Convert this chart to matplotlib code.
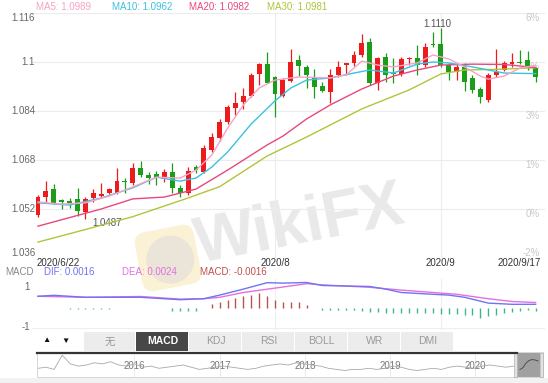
import numpy as np
import matplotlib.pyplot as plt
import matplotlib.transforms as mtransforms
from matplotlib.patches import Rectangle, FancyBboxPatch, Circle

plt.rcParams['font.family'] = ['Liberation Sans', 'Noto Sans CJK SC', 'DejaVu Sans']

# --- data ---
date_labels = ["2020/6/22", "2020/8", "2020/9", "2020/9/17"]
date_pos = [0, 30, 51, 63]

opens = [1.0500, 1.0558, 1.0584, 1.0549, 1.0547, 1.0552, 1.0511, 1.0555, 1.0563, 1.0571,
         1.0573, 1.0612, 1.0604, 1.0653, 1.0631, 1.0634, 1.0617, 1.0642, 1.0588, 1.0573,
         1.0658, 1.0642, 1.0713, 1.0751, 1.0805, 1.0849, 1.0870, 1.0889, 1.0960, 1.0993,
         1.0950, 1.0889, 1.0939, 1.1007, 1.0985, 1.0947, 1.0922, 1.0903, 1.0958, 1.0990,
         1.0996, 1.1023, 1.1066, 1.0932, 1.1015, 1.0965, 1.0961, 1.1009, 1.1012, 1.0990,
         1.1059, 1.1059, 1.0990, 1.0968, 1.0985, 1.0947, 1.0911, 1.0876, 1.0958, 1.0974,
         1.0993, 1.1001, 1.1007, 1.0979]
highs = [1.0566, 1.0612, 1.0602, 1.0552, 1.0555, 1.0588, 1.0560, 1.0584, 1.0606, 1.0588,
         1.0653, 1.0620, 1.0669, 1.0678, 1.0642, 1.0645, 1.0650, 1.0669, 1.0598, 1.0656,
         1.0664, 1.0729, 1.0767, 1.0813, 1.0860, 1.0903, 1.0914, 1.0963, 1.0998, 1.1034,
         1.0954, 1.0947, 1.1041, 1.1023, 1.0990, 1.0976, 1.0936, 1.0976, 1.1004, 1.0998,
         1.1037, 1.1091, 1.1077, 1.1015, 1.1028, 1.1012, 1.1015, 1.1015, 1.1056, 1.1061,
         1.1099, 1.1110, 1.0996, 1.0996, 1.0996, 1.0958, 1.0919, 1.0963, 1.1041, 1.1004,
         1.1030, 1.1039, 1.1037, 1.0985]
lows = [1.0494, 1.0544, 1.0536, 1.0520, 1.0524, 1.0497, 1.0487, 1.0544, 1.0558, 1.0568,
        1.0569, 1.0571, 1.0598, 1.0624, 1.0602, 1.0598, 1.0609, 1.0571, 1.0558, 1.0566,
        1.0637, 1.0637, 1.0707, 1.0743, 1.0798, 1.0827, 1.0846, 1.0885, 1.0925, 1.0930,
        1.0819, 1.0885, 1.0936, 1.0954, 1.0914, 1.0881, 1.0903, 1.0867, 1.0952, 1.0958,
        1.0987, 1.1015, 1.0925, 1.0909, 1.0936, 1.0930, 1.0954, 1.0990, 1.0958, 1.0985,
        1.1050, 1.0985, 1.0941, 1.0941, 1.0906, 1.0900, 1.0865, 1.0870, 1.0952, 1.0972,
        1.0985, 1.0993, 1.0974, 1.0936]
closes = [1.0558, 1.0580, 1.0541, 1.0544, 1.0541, 1.0514, 1.0554, 1.0573, 1.0569, 1.0584,
          1.0612, 1.0608, 1.0653, 1.0631, 1.0620, 1.0620, 1.0642, 1.0588, 1.0571, 1.0645,
          1.0647, 1.0718, 1.0756, 1.0805, 1.0854, 1.0865, 1.0889, 1.0958, 1.0992, 1.0932,
          1.0896, 1.0941, 1.1001, 1.0987, 1.0956, 1.0919, 1.0905, 1.0958, 1.0985, 1.0996,
          1.1023, 1.1063, 1.0932, 1.1012, 1.0958, 1.0961, 1.1009, 1.1012, 1.0990, 1.1050,
          1.1056, 1.0990, 1.0968, 1.0985, 1.0936, 1.0909, 1.0885, 1.0958, 1.0968, 1.0996,
          1.1001, 1.0998, 1.0985, 1.0950]

ma5_idx = [0, 3, 6, 9, 12, 15, 18, 20, 22, 24, 26, 28, 30, 33, 37, 39, 41, 43, 45, 48,
           50, 52, 54, 56, 57, 59, 61, 63]
ma5 = [1.0543, 1.0536, 1.0540, 1.0562, 1.0592, 1.0624, 1.0621, 1.0647, 1.0696, 1.0784,
       1.0860, 1.0915, 1.0941, 1.0951, 1.0948, 1.0958, 1.1003, 1.0990, 1.0984, 1.0997,
       1.1023, 1.1010, 1.0984, 1.0954, 1.0944, 1.0954, 1.0980, 1.0989]
ma10_idx = [0, 4, 8, 12, 15, 18, 20, 22, 24, 27, 30, 32, 34, 37, 40, 42, 45, 48, 50,
            52, 55, 59, 63]
ma10 = [1.0540, 1.0533, 1.0556, 1.0589, 1.0624, 1.0611, 1.0621, 1.0657, 1.0706, 1.0798,
        1.0873, 1.0915, 1.0941, 1.0948, 1.0964, 1.0974, 1.0964, 1.0993, 1.1000, 1.0997,
        1.0984, 1.0964, 1.0962]
ma20_idx = [0, 8, 12, 16, 20, 24, 29, 31, 34, 37, 41, 45, 48, 51, 55, 59, 63]
ma20 = [1.0464, 1.0520, 1.0553, 1.0559, 1.0585, 1.0647, 1.0729, 1.0758, 1.0814, 1.0860,
        1.0912, 1.0954, 1.0974, 1.0990, 1.0993, 1.0992, 1.0982]
ma30_idx = [0, 6, 12, 19, 23, 29, 34, 41, 47, 51, 54, 58, 63]
ma30 = [1.0412, 1.0453, 1.0495, 1.0556, 1.0593, 1.0693, 1.0755, 1.0847, 1.0909, 1.0961,
        1.0974, 1.0976, 1.0981]

yticks = [1.036, 1.052, 1.068, 1.084, 1.1, 1.116]
pct_labels = ["-2%", "0%", "1%", "3%", "4%", "6%"]

dif_idx = [0, 2, 6, 13, 18, 21, 23, 26, 29, 31, 34, 36, 42, 44, 46, 50, 52, 54, 57, 60, 63]
dif = [0.56, 0.61, 0.51, 0.51, 0.39, 0.44, 0.62, 0.92, 1.24, 1.22, 1.25, 1.10, 1.05, 0.92,
       0.75, 0.66, 0.62, 0.51, 0.22, 0.16, 0.16]
dea_idx = [0, 6, 13, 18, 21, 23, 26, 30, 34, 36, 42, 46, 50, 53, 57, 60, 63]
dea = [0.56, 0.51, 0.55, 0.42, 0.44, 0.51, 0.75, 0.97, 1.19, 1.13, 1.01, 0.87, 0.75, 0.66,
       0.44, 0.30, 0.25]
macd_hist = [0, -0.04, -0.04, 0, -0.05, -0.05, -0.05, -0.05, -0.05, -0.05,
             0, 0, 0, -0.03, 0, 0, 0, -0.15, -0.15, -0.15,
             -0.15, 0, 0.18, 0.30, 0.39, 0.49, 0.57, 0.62, 0.71, 0.57,
             0.39, 0.30, 0.27, 0.27, 0.14, 0, -0.12, -0.12, -0.12, -0.12,
             -0.14, -0.18, -0.21, -0.23, -0.25, -0.25, -0.27, -0.27, -0.27, -0.28,
             -0.28, -0.30, -0.30, -0.32, -0.35, -0.39, -0.53, -0.44, -0.35, -0.27,
             -0.21, -0.18, -0.14, -0.18]

tabs = ["无", "MACD", "KDJ", "RSI", "BOLL", "WR", "DMI"]
years = ["2016", "2017", "2018", "2019", "2020"]
year_x = [134, 220, 305, 390, 475]
nav_vals = [0.35, 0.4, 0.3, 0.95, 0.55, 0.45, 0.5, 0.6, 0.55, 0.65, 0.5, 0.45, 0.55, 0.4,
            0.45, 0.35, 0.4, 0.45, 0.5, 0.4, 0.3, 0.35, 0.4, 0.45, 0.4, 0.35, 0.3, 0.35,
            0.45, 0.5, 0.55, 0.5, 0.6, 0.55, 0.5, 0.45, 0.35, 0.3, 0.25, 0.3, 0.3, 0.35,
            0.3, 0.35, 0.45, 0.4, 0.3, 0.25, 0.3, 0.35, 0.3, 0.4, 0.45, 0.4, 0.35, 0.45,
            0.5, 0.45, 0.4, 0.45]
sel_vals = [0.25, 0.35, 0.6, 0.75, 0.8, 0.78, 0.72]

RED = '#ec1c1c'
GREEN = '#1a9e1a'
C_MA5, C_MA10, C_MA20, C_MA30 = '#f5a3c6', '#3cc1df', '#e8487f', '#b1c43a'

W, H = 548, 383


def frac(x0, y0, x1, y1):
    return [x0 / W, 1 - y1 / H, (x1 - x0) / W, (y1 - y0) / H]


fig = plt.figure(figsize=(5.48, 3.83), dpi=100)

# background layer: watermark, legends, tabs (pixel coords)
bg = fig.add_axes([0, 0, 1, 1], zorder=0)
bg.set_xlim(0, W)
bg.set_ylim(H, 0)
bg.axis('off')

rot = mtransforms.Affine2D().rotate_deg_around(168, 258, -11) + bg.transData
logo = FancyBboxPatch((138, 228), 60, 60, boxstyle="round,pad=0,rounding_size=12",
                      facecolor='#fbf2d6', edgecolor='none', transform=rot)
bg.add_patch(logo)
bg.add_patch(Circle((170, 260), 24, facecolor='#ebe4d8', edgecolor='none', transform=rot))
bg.text(300, 226, "WikiFX", fontsize=46, fontweight='bold', color='#e9e9e9',
        rotation=11, ha='center', va='center')

legend_items = [("MA5: 1.0989", 36, C_MA5), ("MA10: 1.0962", 112, C_MA10),
                ("MA20: 1.0982", 189, C_MA20), ("MA30: 1.0981", 267, C_MA30)]
for txt, x, col in legend_items:
    bg.text(x, 7, txt, fontsize=7, color=col, ha='left', va='center')

macd_items = [("MACD", 5, '#888888'), ("DIF: 0.0016", 44, '#6f74f0'),
              ("DEA: 0.0024", 122, '#e070e0'), ("MACD: -0.0016", 200, '#c0504d')]
for txt, x, col in macd_items:
    bg.text(x, 272, txt, fontsize=7, color=col, ha='left', va='center')

# --- main candlestick panel ---
ax = fig.add_axes(frac(32, 13, 545, 258), zorder=1)
ax.set_facecolor('none')
ax.set_xlim(-0.76, 64.18)
ax.set_ylim(1.036, 1.116)
for s in ax.spines.values():
    s.set_visible(False)
ax.set_xticks([])
ax.set_yticks([])
for y in yticks:
    ax.axhline(y, color='#ececec', lw=0.8, zorder=0)
for d in date_pos[1:3]:
    ax.axvline(d, color='#ececec', lw=0.8, zorder=0)

ytr = mtransforms.blended_transform_factory(ax.transAxes, ax.transData)
for i, y in enumerate(yticks):
    va = 'bottom' if i == 0 else ('top' if i == len(yticks) - 1 else 'center')
    ax.text(0.006, y, f"{y:g}", transform=ytr, ha='right', va=va, fontsize=7, color='#666666')
    pva = 'bottom' if i == 0 else 'top'
    ax.text(0.99, y, pct_labels[i], transform=ytr, ha='right', va=pva, fontsize=7,
            color='#c8c8c8', zorder=1)

o, h, l, c = map(np.array, (opens, highs, lows, closes))
idx = np.arange(len(o))
cols = np.where(c >= o, RED, GREEN)
ax.vlines(idx, l, h, colors=cols, lw=0.9, zorder=3)
body = np.maximum(np.abs(c - o), 0.0003)
ax.bar(idx, body, 0.62, bottom=np.minimum(o, c), color=cols, linewidth=0, zorder=4)

ax.plot(ma30_idx, ma30, color=C_MA30, lw=1, zorder=5)
ax.plot(ma20_idx, ma20, color=C_MA20, lw=1, zorder=5)
ax.plot(ma10_idx, ma10, color=C_MA10, lw=1, zorder=5)
ax.plot(ma5_idx, ma5, color=C_MA5, lw=1, zorder=5)

imax = int(np.argmax(h))
imin = int(np.argmin(l))
ax.text(imax - 0.5, h[imax] + 0.0014, f"{h[imax]:.4f}", ha='center', va='center',
        fontsize=7, color='#555555')
ax.text(imin + 2.7, l[imin] - 0.0013, f"{l[imin]:.4f}", ha='center', va='center',
        fontsize=7, color='#555555')

xtr = mtransforms.blended_transform_factory(ax.transData, ax.transAxes)
date_ha = ['left', 'center', 'center', 'right']
date_x = [-0.15, 30, 51, 63.6]
for lab, x, ha in zip(date_labels, date_x, date_ha):
    ax.text(x, -0.022, lab, transform=xtr, ha=ha, va='center', fontsize=7, color='#333333')

# --- MACD panel ---
ax2 = fig.add_axes(frac(32, 279, 545, 330), zorder=1)
ax2.set_facecolor('none')
ax2.set_xlim(-0.76, 64.18)
ax2.set_ylim(-1.125, 1.425)
for s in ax2.spines.values():
    s.set_visible(False)
ax2.set_xticks([])
ax2.set_yticks([])
ax2.axhline(-1, color='#eeeeee', lw=0.8, zorder=0)
for d in date_pos[1:3]:
    ax2.axvline(d, color='#eeeeee', lw=0.8, zorder=0)
ytr2 = mtransforms.blended_transform_factory(ax2.transAxes, ax2.transData)
for v in (1, -1):
    ax2.text(-0.004, v, str(v), transform=ytr2, ha='right', va='center', fontsize=7,
             color='#666666')
hist = np.array(macd_hist)
ax2.vlines(idx, 0, hist, colors=np.where(hist > 0, '#b5524e', '#3db58a'), lw=1.0, zorder=2)
ax2.plot(dea_idx, dea, color='#e46ee6', lw=1, zorder=3)
ax2.plot(dif_idx, dif, color='#6f74f0', lw=1, zorder=3)

# --- indicator tabs ---
bg.text(46, 341, "▲", fontsize=6, color='#111111', ha='center', va='center')
bg.text(65, 341, "▼", fontsize=6, color='#111111', ha='center', va='center')
tab_edges = [84, 136, 189, 242, 295, 348, 401, 454]
for k, name in enumerate(tabs):
    x0, x1 = tab_edges[k], tab_edges[k + 1]
    active = name == "MACD"
    bg.add_patch(Rectangle((x0, 332), x1 - x0 - 1, 19,
                           facecolor='#474747' if active else '#ececec', edgecolor='none'))
    bg.text((x0 + x1) / 2, 341.5, name, fontsize=7.5, ha='center', va='center',
            color='white' if active else '#999999', fontweight='bold' if active else 'normal')

# --- navigator ---
bg.add_patch(Rectangle((37, 352), 506, 25, facecolor='white', edgecolor='#d0d0d0', lw=0.6))
bg.plot([37, 517], [352.5, 352.5], color='#333333', lw=1.6)
for x in year_x:
    bg.plot([x, x], [354, 377], color='#e6e6e6', lw=0.6)
for yr, x in zip(years, year_x):
    bg.text(x, 366, yr, fontsize=7, color='#777777', ha='center', va='center')
bg.add_patch(Rectangle((517, 353), 23, 24, facecolor='#a0a0a0', edgecolor='none'))
bg.add_patch(Rectangle((514, 353), 3, 24, facecolor='#e2e2e2', edgecolor='#b0b0b0', lw=0.5))
bg.add_patch(Rectangle((540, 353), 3, 24, facecolor='#e2e2e2', edgecolor='#b0b0b0', lw=0.5))
bg.add_patch(Rectangle((0, 378), W, 5, facecolor='#f2f2f2', edgecolor='none'))

nav = fig.add_axes(frac(38, 354, 514, 376), zorder=2)
nav.plot(np.arange(len(nav_vals)), nav_vals, color='#a8a8a8', lw=0.6)
nav.set_ylim(0, 1)
nav.set_xlim(0, len(nav_vals) - 1)
nav.axis('off')

sel = fig.add_axes(frac(519, 356, 539, 374), zorder=2)
sel.plot(np.arange(len(sel_vals)), sel_vals, color='#444444', lw=0.6)
sel.set_ylim(0, 1)
sel.axis('off')

fig.savefig('out.png', dpi=100)
